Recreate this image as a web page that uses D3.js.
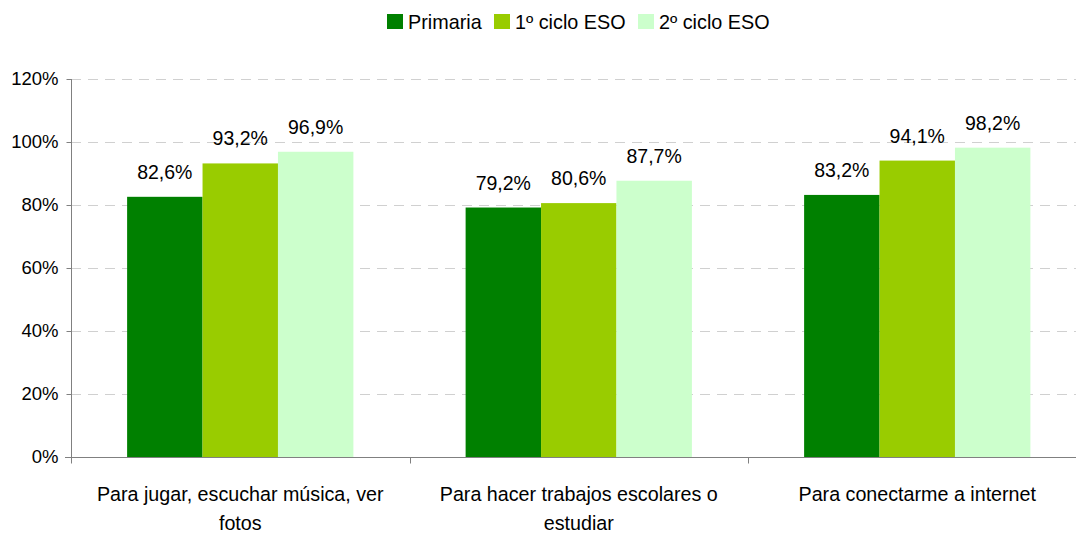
<!DOCTYPE html>
<html><head><meta charset="utf-8">
<script src="https://cdn.jsdelivr.net/npm/d3@7"></script>
<style>body{margin:0;background:#fff;} text{font-family:"Liberation Sans",Arial,sans-serif;fill:#000;}</style>
</head><body><svg id="c" width="1079" height="536"></svg>
<script>
const categories = [["Para jugar, escuchar música, ver","fotos"],["Para hacer trabajos escolares o","estudiar"],["Para conectarme a internet"]];
const series = ["Primaria","1º ciclo ESO","2º ciclo ESO"];
const primaria = [82.6, 79.2, 83.2];
const ciclo1 = [93.2, 80.6, 94.1];
const ciclo2 = [96.9, 87.7, 98.2];
const yTicks = [0,20,40,60,80,100,120];
const colors = ["#008000","#99CC00","#CCFFCC"];
const values = [primaria, ciclo1, ciclo2];

(function(){
const svg = d3.select("#c");
const pL = 71, pR = 1086.5, pT = 79, pB = 457;
const x = d3.scaleBand().domain(d3.range(categories.length)).range([pL,pR]).paddingInner(0).paddingOuter(0);
const y = d3.scaleLinear().domain([0,120]).range([pB,pT]);
const inner = d3.scaleBand().domain(d3.range(series.length)).range([0, x.bandwidth()]).paddingOuter(0.744).paddingInner(0);

svg.append("g").selectAll("line").data(yTicks.filter(d=>d>0)).join("line")
  .attr("x1",pL).attr("x2",1076).attr("y1",d=>Math.round(y(d))+0.5).attr("y2",d=>Math.round(y(d))+0.5)
  .attr("stroke","#d0d0d0").attr("stroke-dasharray","10,7");

series.forEach((s,si)=>{
  svg.append("g").selectAll("rect").data(values[si]).join("rect")
    .attr("x",(d,i)=>x(i)+inner(si)).attr("width",inner.bandwidth())
    .attr("y",d=>y(d)).attr("height",d=>pB-y(d)).attr("fill",colors[si]);
  svg.append("g").selectAll("text").data(values[si]).join("text")
    .attr("x",(d,i)=>x(i)+inner(si)+inner.bandwidth()/2).attr("y",d=>y(d)-18)
    .attr("text-anchor","middle").attr("font-size","19.5px")
    .text(d=>d.toFixed(1).replace(".",",")+"%");
});

const ya = svg.append("g").attr("transform",`translate(${pL+0.5},0)`)
  .call(d3.axisLeft(y).tickValues(yTicks).tickSize(5).tickPadding(8).tickFormat(d=>d+"%"));
ya.select(".domain").attr("stroke","#808080").attr("d",`M0,${pT}V${pB+6}`);
ya.selectAll(".tick line").attr("stroke","#808080");
ya.selectAll("text").attr("font-size","18.5px").attr("font-family","Liberation Sans, Arial, sans-serif").attr("fill","#000");

const xa = svg.append("g").attr("transform",`translate(0,${pB+0.5})`);
xa.append("line").attr("x1",pL-6).attr("x2",1076).attr("stroke","#808080");
xa.selectAll(".tk").data(d3.range(categories.length)).join("line").attr("class","tk")
  .attr("x1",i=>Math.round(pL+i*x.bandwidth())+0.5).attr("x2",i=>Math.round(pL+i*x.bandwidth())+0.5).attr("y1",0).attr("y2",6).attr("stroke","#808080");
categories.forEach((lines,i)=>{
  const t = xa.append("text").attr("text-anchor","middle").attr("font-size","19.7px")
    .attr("transform",`translate(${x(i)+x.bandwidth()/2},0)`);
  lines.forEach((l,j)=>t.append("tspan").attr("x",0).attr("y",43.5+j*29).text(l));
});

const leg = svg.append("g");
const legX = [387, 494, 638];
series.forEach((s,i)=>{
  leg.append("rect").attr("x",legX[i]).attr("y",14).attr("width",16).attr("height",15).attr("fill",colors[i]);
  leg.append("text").attr("x",legX[i]+21).attr("y",29).attr("font-size","19.8px").text(s);
});
})();
</script></body></html>
